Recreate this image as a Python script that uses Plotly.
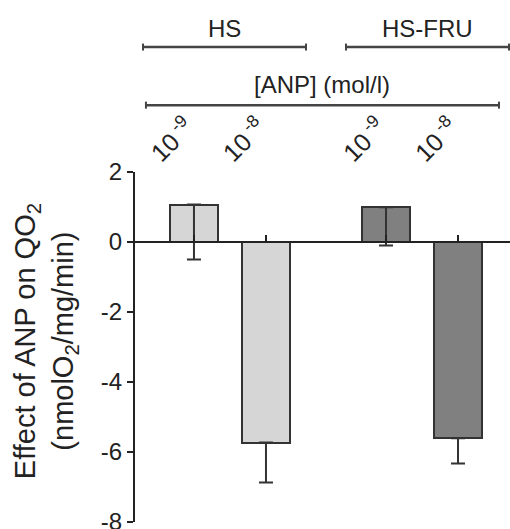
import plotly.graph_objects as go

# ---- data ----
groups = ["HS", "HS-FRU"]
doses = ["10<sup> -9</sup>", "10<sup> -8</sup>"]
values = [1.07, -5.73, 0.99, -5.61]          # HS 1e-9, HS 1e-8, HS-FRU 1e-9, HS-FRU 1e-8
errors = [1.57, 1.14, 1.09, 0.72]
group_colors = ["#d6d6d6", "#808080"]
y_ticks = [-8, -6, -4, -2, 0, 2]
y_ticktext = ["-8", "-6", "-4", "-2", "0", "2"]

FONT = "Liberation Sans, Arial, sans-serif"
GROUP_GAP = 2.667

xpos, colors, labels = [], [], []
for g, gname in enumerate(groups):
    for d, dname in enumerate(doses):
        xpos.append(g * GROUP_GAP + d)
        colors.append(group_colors[g])
        labels.append(dname)

fig = go.Figure()
fig.add_trace(go.Bar(
    x=xpos, y=values, width=0.667,
    marker=dict(color=colors, line=dict(color="#333333", width=2)),
    error_y=dict(type="data", symmetric=False, array=[0] * len(values),
                 arrayminus=errors, color="#333333", thickness=2, width=7),
    showlegend=False, hoverinfo="skip",
))

XR = [-0.819, 4.389]
fig.update_layout(
    width=510, height=529,
    margin=dict(l=135, r=0, t=172, b=7, autoexpand=False),
    paper_bgcolor="white", plot_bgcolor="white",
    font=dict(family=FONT, color="#222222"),
    bargap=0,
    xaxis=dict(range=XR, anchor="free", position=0.8, showline=True,
               linecolor="#222222", linewidth=2, ticks="inside", ticklen=6,
               tickwidth=2, tickcolor="#222222", tickvals=xpos,
               showticklabels=False, showgrid=False, zeroline=False,
               automargin=False),
    yaxis=dict(range=[-8, 2], tickvals=y_ticks, ticktext=y_ticktext, showline=True,
               linecolor="#222222", linewidth=2, ticks="outside", ticklen=6,
               tickwidth=2, tickcolor="#222222", ticklabeloverflow="allow",
               tickfont=dict(size=24, family=FONT, color="#222222"),
               showgrid=False, zeroline=False, automargin=False),
)

# rotated dose labels
for xp, lab in zip(xpos, labels):
    fig.add_annotation(x=xp, xref="x", y=1.095, yref="paper", xshift=-23,
                       text=lab, textangle=-45, showarrow=False,
                       xanchor="center", yanchor="middle",
                       font=dict(size=25, family=FONT, color="#222222"))

# brackets
def bracket(x0, x1, y, col="#444444"):
    fig.add_shape(type="line", xref="x", yref="paper", x0=x0, x1=x1, y0=y, y1=y,
                  line=dict(color=col, width=2.5))
    for xx in (x0, x1):
        fig.add_shape(type="line", xref="x", yref="paper", x0=xx, x1=xx,
                      y0=y - 0.01, y1=y + 0.01, line=dict(color=col, width=2))

bracket(-0.708, 1.556, 1.357)
bracket(2.111, 4.375, 1.357)
bracket(-0.667, 4.236, 1.191)

fig.add_annotation(x=(-0.708 + 1.556) / 2, xref="x", y=1.411, yref="paper",
                   text=groups[0], showarrow=False, xanchor="center", yanchor="middle",
                   font=dict(size=24, family=FONT, color="#222222"))
fig.add_annotation(x=(2.111 + 4.375) / 2, xref="x", y=1.411, yref="paper",
                   text=groups[1], showarrow=False, xanchor="center", yanchor="middle",
                   font=dict(size=24, family=FONT, color="#222222"))
fig.add_annotation(x=(-0.667 + 4.236) / 2, xref="x", y=1.249, yref="paper",
                   text="[ANP] (mol/l)", showarrow=False, xanchor="center", yanchor="middle",
                   font=dict(size=24, family=FONT, color="#222222"))

# y-axis title
fig.add_annotation(x=-0.237, xref="paper", y=0.517, yref="paper",
                   text="Effect of ANP on QO<sub>2</sub><br>(nmolO<sub>2</sub>/mg/min)",
                   textangle=-90, showarrow=False, xanchor="center", yanchor="middle",
                   font=dict(size=29, family=FONT, color="#222222"))

fig.write_html("out.html", config={"displayModeBar": False},
               post_script="document.body.style.margin='0px';")
